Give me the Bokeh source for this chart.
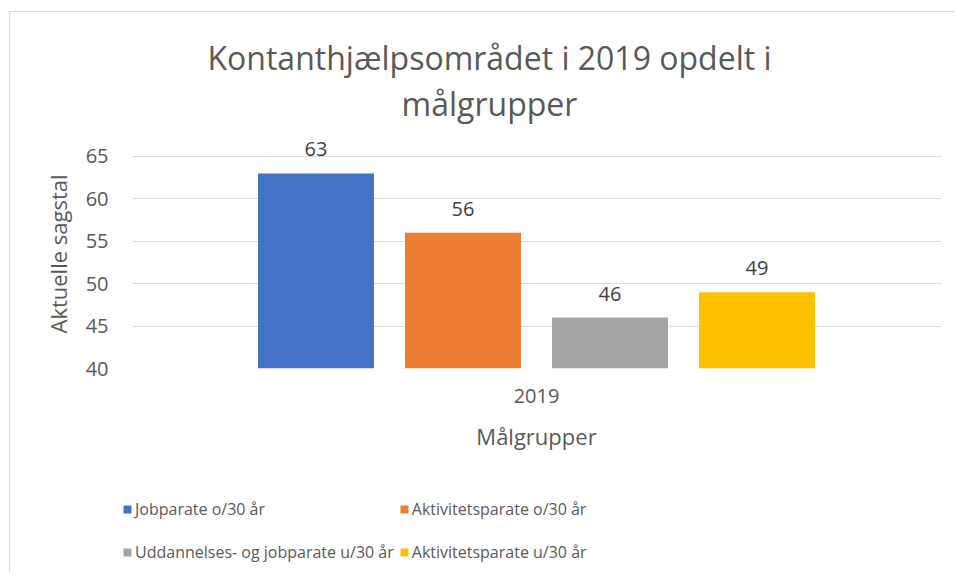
from bokeh.plotting import figure
from bokeh.layouts import column
from bokeh.models import (ColumnDataSource, FactorRange, Range1d, FixedTicker,
                          LabelSet, Label, Legend, LegendItem)
from bokeh.transform import dodge
from bokeh.core.properties import value
from bokeh.embed import file_html
from bokeh.resources import INLINE

# ---- data ----
categories = ["2019"]
series = ["Jobparate o/30 år", "Aktivitetsparate o/30 år",
          "Uddannelses- og jobparate u/30 år", "Aktivitetsparate u/30 år"]
values = [63, 56, 46, 49]
colors = ["#4472C4", "#ED7D31", "#A5A5A5", "#FFC000"]
y_ticks = [40, 45, 50, 55, 60, 65]
title_lines = ["Kontanthjælpsområdet i 2019 opdelt i", "målgrupper"]
y_label = "Aktuelle sagstal"
x_label = "Målgrupper"

FONT = "Open Sans"
TXT = "#595959"
W = 944
TH = 120  # title strip height (px)


def bare(fig):
    fig.frame_align = False
    fig.axis.visible = False
    fig.grid.visible = False
    fig.outline_line_color = None
    fig.border_fill_color = "white"
    fig.background_fill_color = "white"


# ---- title strip ----
pt = figure(x_range=Range1d(0, W), y_range=Range1d(0, TH), width=W, height=TH,
            output_backend="svg", toolbar_location=None, title=None,
            min_border=0, min_border_left=0, min_border_right=0,
            min_border_top=0, min_border_bottom=0)
bare(pt)
for line, ty in zip(title_lines, [TH - 45, TH - 91]):
    pt.add_layout(Label(x=479, y=ty, text=line, text_align="center", text_baseline="middle",
                        text_font=FONT, text_font_size="32px", text_color=TXT))

# ---- main chart ----
p = figure(x_range=FactorRange(factors=categories, range_padding=0),
           y_range=Range1d(y_ticks[0], y_ticks[-1] + 2),
           width=W, height=330, output_backend="svg", toolbar_location=None,
           title=None,
           min_border_left=121, min_border_right=13, min_border_top=7,
           min_border_bottom=94)
p.frame_align = False
p.outline_line_color = None
p.background_fill_color = "white"
p.border_fill_color = "white"

# ---- legend strip (same data; its renderers are hidden) ----
pl = figure(x_range=p.x_range, y_range=Range1d(0, 1), width=W, height=110,
            output_backend="svg", toolbar_location=None, title=None,
            min_border=0, min_border_left=0, min_border_right=0,
            min_border_top=0, min_border_bottom=0)
bare(pl)

step = 0.1815
bw = 0.1432
items = []
for i, (name, v, c) in enumerate(zip(series, values, colors)):
    off = (i - (len(series) - 1) / 2) * step
    src = ColumnDataSource(dict(cat=categories, v=[v], t=[str(v)]))
    p.vbar(x=dodge("cat", off, range=p.x_range), top="v", bottom=y_ticks[0],
           width=bw, fill_color=c, line_color=None, source=src)
    p.add_layout(LabelSet(x=dodge("cat", off, range=p.x_range), y="v", text="t", source=src,
                          text_align="center", text_baseline="alphabetic", y_offset=17,
                          text_font=value(FONT), text_font_size="20px", text_color="#404040"))
    r = pl.vbar(x=dodge("cat", off, range=pl.x_range), top="v", bottom=y_ticks[0],
                width=bw, fill_color=c, line_color=None, source=src, visible=False)
    items.append(LegendItem(label=name, renderers=[r]))

# axes
p.yaxis.ticker = FixedTicker(ticks=y_ticks)
p.yaxis.axis_label = y_label
p.xaxis.axis_label = x_label
for ax in (p.xaxis, p.yaxis):
    ax.axis_line_color = None
    ax.major_tick_line_color = None
    ax.minor_tick_line_color = None
    ax.major_tick_out = 0
    ax.major_label_text_font = FONT
    ax.major_label_text_font_size = "20px"
    ax.major_label_text_color = TXT
    ax.axis_label_text_font = FONT
    ax.axis_label_text_font_size = "22px"
    ax.axis_label_text_font_style = "normal"
    ax.axis_label_text_color = TXT
p.yaxis.major_label_standoff = 23
p.yaxis.axis_label_standoff = 10
p.xaxis.major_label_standoff = 20
p.xaxis.axis_label_standoff = 15

p.xgrid.grid_line_color = None
p.ygrid.grid_line_color = "#D9D9D9"
p.ygrid.grid_line_width = 1

legend = Legend(items=items, location=(112, 1), orientation="horizontal", ncols=2,
                glyph_width=10, glyph_height=10, label_standoff=3, spacing=5,
                label_height=38, padding=0, margin=0, border_line_color=None,
                background_fill_alpha=0, inactive_fill_alpha=0, label_text_font=FONT,
                label_text_font_size="16px", label_text_color=TXT)
pl.add_layout(legend, "center")

layout = column(pt, p, pl, spacing=0, margin=(11, 0, 0, 9),
                styles={"border-top": "1px solid #d9d9d9", "border-left": "1px solid #d9d9d9",
                        "background-color": "white"})

open("out.html", "w").write(file_html(layout, INLINE))
